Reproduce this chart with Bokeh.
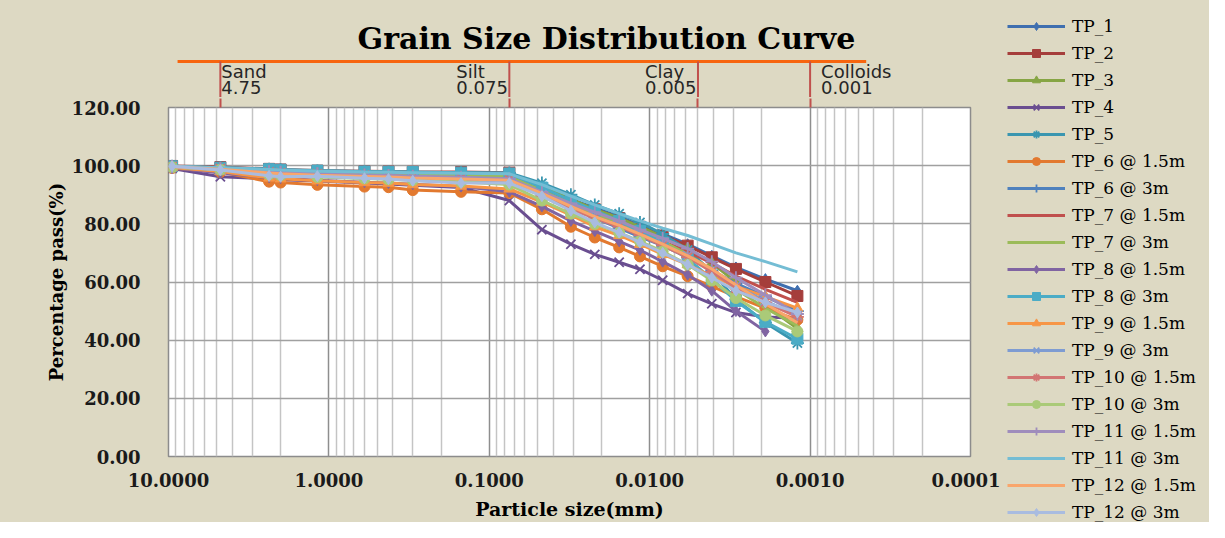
from bokeh.plotting import figure
from bokeh.layouts import row, column
from bokeh.models import (Range1d, FixedTicker, NumeralTickFormatter, Label,
                          Legend, LegendItem, LogAxis)
from bokeh.embed import file_html
from bokeh.resources import INLINE

# ---------------- data ----------------
SIEVE_MM = [9.5, 4.75, 2.36, 2.0, 1.18, 0.6, 0.425, 0.3, 0.15, 0.075]
HYDRO_MM = [0.047, 0.031, 0.022, 0.0155, 0.0115, 0.0083, 0.0058, 0.0041, 0.0029, 0.0019, 0.0012]
PARTICLE_MM = SIEVE_MM + HYDRO_MM

NAN = float("nan")

TP_1 = [99.6, 99.0, 98.3, 98.1, 97.7, 97.4, 97.3, 97.2, 97.0, 96.8,
        92.5, 88.5, 85.5, 82.5, 79.5, 76.5, 73.0, 69.0, 65.0, 61.0, 57.0]
TP_2 = [99.9, 99.5, 98.9, 98.7, 98.3, 98.1, 98.0, 97.9, 97.8, 97.6,
        92.0, 88.0, 85.0, 82.0, 79.0, 76.0, 72.5, 68.5, 64.5, 60.0, 55.2]
TP_3 = [99.7, 99.2, 98.6, 98.4, 98.0, 97.8, 97.6, 97.5, 97.4, 97.2,
        93.0, 88.5, 85.0, 82.0, 79.0, 75.5, 71.5, 66.5, 60.0, 52.0, 44.0]
TP_4 = [99.0, 96.2, 95.5, 95.2, 94.7, 94.0, 93.7, 93.3, 92.5, 88.0,
        78.0, 73.0, 69.5, 66.8, 64.4, 60.6, 56.0, 52.5, 49.5, 48.0, 47.5]
TP_5 = [99.8, 99.3, 98.8, 98.6, 98.2, 97.9, 97.8, 97.7, 97.6, 97.5,
        94.0, 90.0, 86.5, 83.5, 80.5, 76.5, 71.0, 63.5, 54.0, 46.0, 39.0]
TP_6_15 = [99.2, 97.8, 94.5, 94.2, 93.4, 92.8, 92.6, 91.6, 91.0, 90.6,
           85.0, 79.0, 75.3, 71.9, 68.8, 65.4, 62.0, 58.5, 55.0, 51.0, 47.0]
TP_6_3 = [99.5, 98.5, 97.0, 96.8, 96.3, 95.8, 95.6, 95.3, 94.8, 94.0,
          90.0, 85.5, 82.0, 78.5, 75.5, 72.5, 68.5, 64.0, 59.5, 55.0, 50.0]
TP_7_15 = [99.8, 99.2, 98.5, 98.3, 97.9, 97.6, 97.5, 97.4, 97.2, 97.0,
           91.0, 86.5, 83.0, 80.0, 77.0, 74.0, 70.5, 66.5, 62.0, 57.5, 53.0]
TP_7_3 = [99.7, 99.0, 98.2, 98.0, 97.5, 97.2, 97.0, 96.9, 96.6, 96.3,
          91.5, 87.0, 83.5, 80.5, 77.5, 74.0, 69.5, 64.0, 57.5, 51.0, 45.0]
TP_8_15 = [99.3, 97.5, 96.0, 95.7, 95.0, 94.3, 94.0, 93.6, 92.8, 91.0,
           86.0, 81.0, 77.5, 74.0, 71.0, 67.0, 62.5, 57.0, 50.0, 43.0, NAN]
TP_8_3 = [99.8, 99.3, 98.8, 98.6, 98.3, 98.0, 97.9, 97.8, 97.6, 97.3,
          92.5, 88.0, 84.5, 81.0, 77.5, 73.5, 68.0, 61.0, 53.5, 46.3, 40.5]
TP_9_15 = [99.4, 98.0, 95.8, 95.5, 94.8, 94.2, 94.0, 93.5, 93.0, 92.0,
           87.5, 83.0, 79.0, 76.0, 73.0, 69.5, 66.0, 62.0, 58.5, 55.0, 51.0]
TP_9_3 = [99.6, 98.6, 97.2, 97.0, 96.5, 96.0, 95.8, 95.5, 95.0, 94.5,
          90.0, 85.5, 82.5, 79.5, 76.5, 73.0, 69.0, 64.0, 58.5, 53.5, 48.5]
TP_10_15 = [99.7, 99.0, 97.8, 97.6, 97.1, 96.7, 96.5, 96.2, 95.8, 95.3,
            89.5, 85.0, 82.0, 79.0, 76.0, 72.5, 68.5, 63.5, 58.0, 53.0, 48.0]
TP_10_3 = [99.5, 98.6, 97.0, 96.7, 96.1, 95.6, 95.3, 95.0, 94.4, 93.5,
           88.0, 83.5, 80.0, 77.0, 74.0, 70.5, 66.0, 60.5, 54.5, 48.5, 43.0]
TP_11_15 = [99.6, 98.9, 97.9, 97.7, 97.2, 96.8, 96.6, 96.4, 96.0, 95.5,
            91.0, 87.0, 84.0, 81.0, 78.0, 75.0, 71.5, 67.0, 61.5, 55.5, 49.0]
TP_11_3 = [99.8, 99.3, 98.7, 98.5, 98.1, 97.8, 97.7, 97.6, 97.4, 97.2,
           93.5, 89.5, 86.5, 83.5, 81.0, 78.5, 76.0, 73.0, 70.0, 67.0, 63.5]
TP_12_15 = [99.6, 98.8, 97.5, 97.2, 96.7, 96.3, 96.1, 95.8, 95.4, 95.0,
            90.5, 86.0, 82.5, 79.5, 76.5, 73.0, 69.0, 64.5, 59.0, 52.5, 46.0]
TP_12_3 = [99.8, 98.5, 96.5, 96.2, 96.4, 95.7, 95.4, 94.8, 94.0, 94.0,
           89.5, 84.5, 80.5, 77.0, 73.6, 70.0, 66.0, 61.5, 57.0, 53.0, 49.5]

SERIES_NAMES = ["TP_1", "TP_2", "TP_3", "TP_4", "TP_5",
                "TP_6 @ 1.5m", "TP_6 @ 3m", "TP_7 @ 1.5m", "TP_7 @ 3m",
                "TP_8 @ 1.5m", "TP_8 @ 3m", "TP_9 @ 1.5m", "TP_9 @ 3m",
                "TP_10 @ 1.5m", "TP_10 @ 3m", "TP_11 @ 1.5m", "TP_11 @ 3m",
                "TP_12 @ 1.5m", "TP_12 @ 3m"]
SERIES_VALUES = [TP_1, TP_2, TP_3, TP_4, TP_5, TP_6_15, TP_6_3, TP_7_15, TP_7_3,
                 TP_8_15, TP_8_3, TP_9_15, TP_9_3, TP_10_15, TP_10_3, TP_11_15,
                 TP_11_3, TP_12_15, TP_12_3]

BOUNDARY_NAMES = ["Sand", "Silt", "Clay", "Colloids"]
BOUNDARY_MM = [4.75, 0.075, 0.005, 0.001]
BOUNDARY_TEXT = ["4.75", "0.075", "0.005", "0.001"]

X_TICKS = [10, 1, 0.1, 0.01, 0.001, 0.0001]
Y_TICKS = [0, 20, 40, 60, 80, 100, 120]

# ---------------- styles ----------------
COLORS = ["#3F6FAF", "#A53E3B", "#86A544", "#6A4E90", "#3A96B0", "#E2792F",
          "#4F81BD", "#C0504D", "#9BBB59", "#8064A2", "#4BACC6", "#F79646",
          "#7E9CD2", "#D27573", "#AACA78", "#9F8DBC", "#74BDD4", "#F9A66C",
          "#A9BCE0"]
MARKERS = ["diamond", "square", "triangle", "x", "asterisk", "circle",
           "cross", None, None, "diamond", "square", "triangle", "x",
           "asterisk", "circle", "cross", None, None, "diamond"]

BG = "#DDD9C3"
RED = "#C0504D"
SERIF = "DejaVu Serif"
SANS = "DejaVu Sans"

LEFT = 168        # left border of the plot area
RIGHT_PAD = 30    # room right of the plot area for the last tick label
PLOT_W = 802
TOP_H = 97
GAP = 10          # strip above the plot area (red boundary ticks continue here)
MAIN_H = 522 - TOP_H
LEG_W = 1209 - (LEFT + PLOT_W + RIGHT_PAD)

x_range = Range1d(10, 0.0001)
minor = [m * 10.0 ** e for e in range(-4, 1) for m in range(2, 10)]

# ---------------- header strip: title + soil classification band ----------------
top = figure(width=LEFT + PLOT_W + RIGHT_PAD, height=TOP_H, x_axis_type="log",
             x_range=x_range, y_range=Range1d(0, TOP_H),
             x_axis_location=None, y_axis_location=None,
             output_backend="svg", toolbar_location=None,
             min_border_left=LEFT, min_border_right=RIGHT_PAD,
             min_border_top=0, min_border_bottom=0,
             background_fill_color=None, border_fill_color=BG)
top.outline_line_color = None
top.grid.visible = False

BAND_Y = 36
BAND_X = (8.78, 0.000447)
top.segment(x0=[BAND_X[0]], y0=[BAND_Y], x1=[BAND_X[1]], y1=[BAND_Y],
            line_color="#F7650F", line_width=3)
top.segment(x0=BOUNDARY_MM, y0=[BAND_Y] * 4, x1=BOUNDARY_MM, y1=[-5] * 4,
            line_color=RED, line_width=2)
name_offsets = [1, -53, -53, 11]
for nm, mm, tx, off in zip(BOUNDARY_NAMES, BOUNDARY_MM, BOUNDARY_TEXT, name_offsets):
    top.add_layout(Label(x=mm, y=26, text=nm, x_offset=off, text_align="left",
                         text_baseline="middle", text_font=SANS,
                         text_font_size="18px", text_color="#262626"))
    top.add_layout(Label(x=mm, y=10, text=tx, x_offset=off, text_align="left",
                         text_baseline="middle", text_font=SANS,
                         text_font_size="18px", text_color="#262626"))
top.add_layout(Label(x=0.0186, y=59, text="Grain Size Distribution Curve",
                     text_align="center", text_baseline="middle", text_font=SERIF,
                     text_font_style="bold", text_font_size="30px", text_color="black"))

# ---------------- main chart ----------------
p = figure(width=LEFT + PLOT_W + RIGHT_PAD, height=MAIN_H, x_axis_type="log",
           x_range=x_range, y_range=Range1d(0, 120),
           output_backend="svg", toolbar_location=None,
           min_border_left=LEFT, min_border_right=RIGHT_PAD,
           min_border_top=GAP, min_border_bottom=MAIN_H - GAP - 352,
           background_fill_color="white", border_fill_color=BG)
p.outline_line_color = "#8C8C8C"
p.outline_line_width = 1.5

# red boundary lines continue down to the plot area as outward ticks
band_axis = LogAxis(ticker=FixedTicker(ticks=BOUNDARY_MM), axis_line_color=None,
                    major_tick_in=0, major_tick_out=GAP - 1,
                    major_tick_line_color=RED, major_tick_line_width=2,
                    minor_tick_line_color=None, major_label_text_font_size="1px",
                    major_label_text_alpha=0, major_label_standoff=0)
p.add_layout(band_axis, "above")

xa = p.below[0]
xa.ticker = FixedTicker(ticks=X_TICKS, minor_ticks=minor)
xa.formatter = NumeralTickFormatter(format="0.0000")
xa.axis_label = "Particle size(mm)"
ya = p.left[0]
ya.ticker = FixedTicker(ticks=Y_TICKS)
ya.formatter = NumeralTickFormatter(format="0.00")
ya.axis_label = "Percentage pass(%)"
for ax in (xa, ya):
    ax.axis_line_color = None
    ax.major_tick_line_color = None
    ax.minor_tick_line_color = None
    ax.major_label_text_font = SERIF
    ax.major_label_text_font_style = "bold"
    ax.major_label_text_font_size = "18px"
    ax.major_label_text_color = "#1a1a1a"
    ax.axis_label_text_font = SERIF
    ax.axis_label_text_font_style = "bold"
    ax.axis_label_text_color = "black"
xa.axis_label_text_font_size = "19px"
ya.axis_label_text_font_size = "18px"
xa.major_label_standoff = 10
xa.axis_label_standoff = 8
ya.major_label_standoff = 22
ya.axis_label_standoff = 2

xg = p.xgrid[0]
xg.ticker = FixedTicker(ticks=X_TICKS, minor_ticks=minor)
xg.grid_line_color = "#8E8E8E"
xg.grid_line_width = 1.5
xg.minor_grid_line_color = "#C4C4C4"
xg.minor_grid_line_width = 1.5
yg = p.ygrid[0]
yg.ticker = FixedTicker(ticks=Y_TICKS)
yg.grid_line_color = "#A0A0A0"
yg.grid_line_width = 1.5

# ---------------- legend panel ----------------
lg = figure(width=LEG_W, height=TOP_H + MAIN_H, x_axis_type="log",
            x_range=Range1d(1e3, 1e4), y_range=Range1d(1e3, 1e4),
            x_axis_location=None, y_axis_location=None,
            output_backend="svg", toolbar_location=None,
            min_border_left=0, min_border_right=0, min_border_top=0, min_border_bottom=0,
            background_fill_color=None, border_fill_color=BG)
lg.outline_line_color = None
lg.grid.visible = False


def add_series(fig, vals, col, mk):
    rs = [fig.line(PARTICLE_MM, vals, line_color=col, line_width=3)]
    if mk is not None:
        thin = mk in ("x", "asterisk", "cross")
        rs.append(fig.scatter(PARTICLE_MM, vals, marker=mk, size=13 if thin else 11,
                              fill_color=col, line_color=col,
                              line_width=1.8 if thin else 1))
    return rs


items = []
for name, vals, col, mk in zip(SERIES_NAMES, SERIES_VALUES, COLORS, MARKERS):
    add_series(p, vals, col, mk)
    items.append(LegendItem(label=name, renderers=add_series(lg, vals, col, mk)))

legend = Legend(items=items, location=(7, 0), padding=0, margin=0, spacing=7,
                glyph_width=58, glyph_height=20, label_height=20,
                label_standoff=7, label_text_font=SERIF,
                label_text_font_size="17px", label_text_color="black",
                border_line_color=None, background_fill_alpha=0)
lg.add_layout(legend)

layout = row(column(top, p, spacing=0, styles={"background-color": BG}), lg,
             spacing=0, styles={"background-color": BG})
html = file_html(layout, INLINE)
html = html.replace("<body>", '<body style="background-color: %s;">' % BG, 1)
open("out.html", "w").write(html)
